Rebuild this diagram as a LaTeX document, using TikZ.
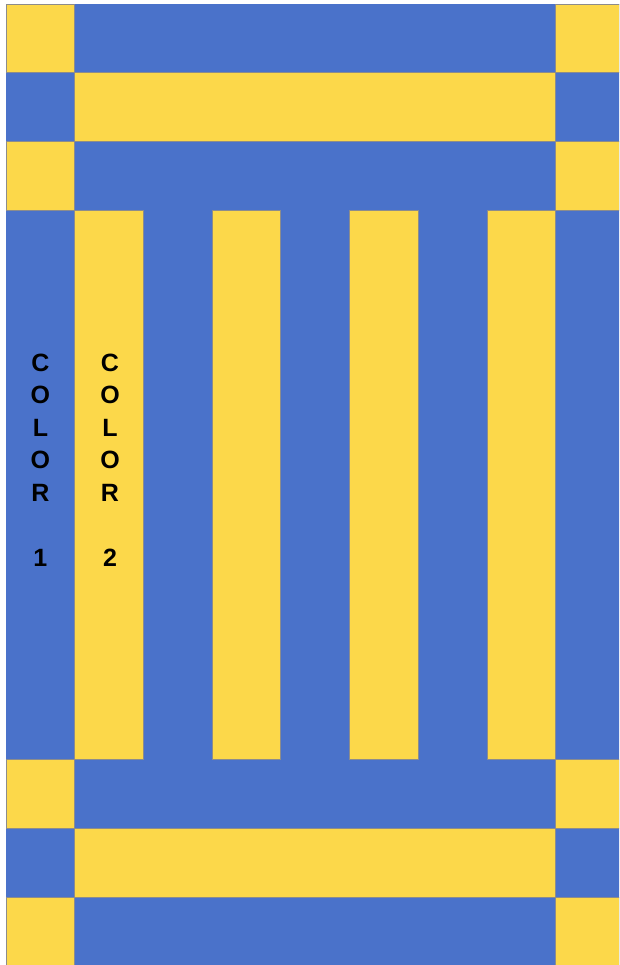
\documentclass[tikz,border=0pt]{standalone}
\usepackage{fontspec}
\setmainfont{Liberation Sans}
\definecolor{quiltblue}{RGB}{74,114,202}
\definecolor{quiltyellow}{RGB}{252,216,74}
\tikzset{
  bluepatch/.style={fill=quiltblue},
  yellowpatch/.style={fill=quiltyellow, draw=black!45, line width=0.8pt},
  colorlabel/.style={font=\bfseries\fontsize{25}{32.5}\selectfont, align=center, inner sep=0pt}
}
\begin{document}
\begin{tikzpicture}[x=1pt, y=-1pt]
  \def\u{68.7}
  \useasboundingbox (0,0) rectangle (619,965);
  \clip (0,0) rectangle (619,965);
  \fill[white] (0,0) rectangle (619,965);

  % blue ground of the whole quilt
  \fill[bluepatch] (6,4) rectangle (630,975);

  % corner squares, top and bottom borders
  \foreach \y in {4, 141.4, 759.7, 897.1} {
    \path[yellowpatch] (6,\y) rectangle (74.7,\y+\u);
    \path[yellowpatch] (555.6,\y) rectangle (630,\y+\u);
  }
  % long bars
  \foreach \y in {72.7, 828.4}
    \path[yellowpatch] (74.7,\y) rectangle (555.6,\y+\u);

  % vertical strips
  \foreach \i in {1,3,5,7}
    \path[yellowpatch] ({6+\u*\i},210.1) rectangle ({6+\u*(\i+1)},759.7);

  % labels
  \node[colorlabel] (label1) at (40.4,460) {C\\O\\L\\O\\R\\[32.5pt]1};
  \node[colorlabel] (label2) at (110,460) {C\\O\\L\\O\\R\\[32.5pt]2};
\end{tikzpicture}
\end{document}
